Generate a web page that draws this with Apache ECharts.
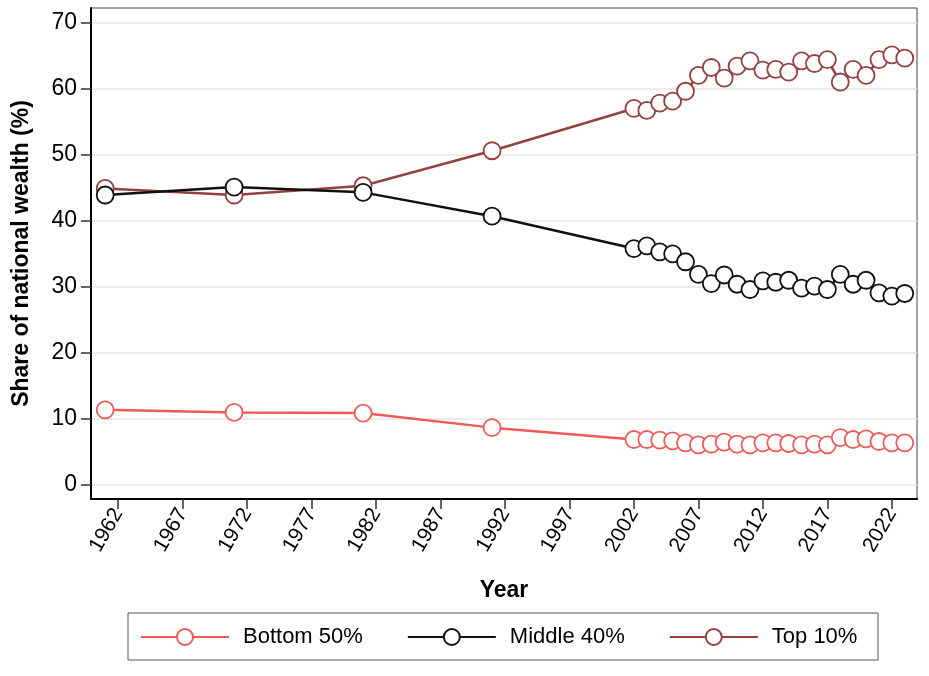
<!DOCTYPE html>
<html>
<head>
<meta charset="utf-8">
<script src="https://cdn.jsdelivr.net/npm/echarts@6/dist/echarts.min.js"></script>
<style>
  html, body { margin: 0; padding: 0; background: #fff; }
  #chart { width: 929px; height: 676px; }
</style>
</head>
<body>
<div id="chart"></div>
<script>
// ---- data ----
const years = [1961, 1971, 1981, 1991,
  2002, 2003, 2004, 2005, 2006, 2007, 2008, 2009, 2010, 2011, 2012,
  2013, 2014, 2015, 2016, 2017, 2018, 2019, 2020, 2021, 2022, 2023];
const bottom50 = [11.4, 11.0, 10.9, 8.7,
  6.9, 6.9, 6.8, 6.7, 6.4, 6.1, 6.2, 6.5, 6.2, 6.1, 6.4,
  6.4, 6.3, 6.1, 6.2, 6.1, 7.2, 6.9, 7.0, 6.6, 6.4, 6.4];
const middle40 = [43.9, 45.1, 44.3, 40.7,
  35.8, 36.2, 35.3, 35.0, 33.8, 31.9, 30.5, 31.8, 30.4, 29.6, 30.9,
  30.7, 31.0, 29.8, 30.1, 29.6, 31.9, 30.4, 31.0, 29.1, 28.6, 29.0];
const top10 = [44.9, 43.9, 45.3, 50.6,
  57.0, 56.7, 57.8, 58.1, 59.6, 62.0, 63.2, 61.6, 63.4, 64.2, 62.8,
  62.9, 62.5, 64.2, 63.8, 64.4, 61.0, 62.9, 62.0, 64.4, 65.1, 64.6];
const xTicks = [1962, 1967, 1972, 1977, 1982, 1987, 1992, 1997, 2002, 2007, 2012, 2017, 2022];
const yTicks = [0, 10, 20, 30, 40, 50, 60, 70];
const seriesNames = ['Bottom 50%', 'Middle 40%', 'Top 10%'];

const FONT = 'Liberation Sans, Arial, Helvetica, sans-serif';
const pairs = arr => years.map((y, i) => [y, arr[i]]);

function lineSeries(name, data, color, z) {
  return {
    name: name,
    type: 'line',
    data: pairs(data),
    symbol: 'circle',
    symbolSize: 17,
    showAllSymbol: true,
    z: z,
    lineStyle: { color: color, width: 2.5 },
    itemStyle: { color: '#ffffff', borderColor: color, borderWidth: 1.8 },
    emphasis: { disabled: true },
    animation: false
  };
}

const chart = echarts.init(document.getElementById('chart'), null, { renderer: 'canvas' });
chart.setOption({
  backgroundColor: '#ffffff',
  animation: false,
  textStyle: { fontFamily: FONT },
  grid: {
    left: 91, right: 12, top: 8, bottom: 177,
    outerBoundsMode: 'none',
    containLabel: false,
    show: true, borderColor: '#444', borderWidth: 1, backgroundColor: 'transparent'
  },
  xAxis: {
    type: 'value',
    min: 1959.9,
    max: 2023.95,
    name: 'Year',
    nameLocation: 'middle',
    nameGap: 80,
    nameTextStyle: { fontFamily: FONT, fontSize: 23, fontWeight: 'bold', color: '#000' },
    axisLine: { show: true, onZero: false, lineStyle: { color: '#000', width: 2 } },
    axisTick: { show: true, length: 10, customValues: xTicks, lineStyle: { color: '#333', width: 1.5 } },
    axisLabel: {
      customValues: xTicks,
      rotate: 60,
      margin: 11,
      fontFamily: FONT,
      fontSize: 21,
      color: '#000',
      formatter: v => String(v)
    },
    splitLine: { show: false }
  },
  yAxis: {
    type: 'value',
    min: -2.1,
    max: 72.2,
    name: 'Share of national wealth (%)',
    nameLocation: 'middle',
    nameGap: 58,
    nameTextStyle: { fontFamily: FONT, fontSize: 23, fontWeight: 'bold', color: '#000' },
    axisLine: { show: true, onZero: false, lineStyle: { color: '#000', width: 2 } },
    axisTick: { show: true, length: 10, customValues: yTicks, lineStyle: { color: '#333', width: 1.5 } },
    axisLabel: {
      customValues: yTicks,
      margin: 14,
      fontFamily: FONT,
      fontSize: 23,
      color: '#000'
    },
    splitLine: { show: true, lineStyle: { color: '#e6e6e6', width: 1.5 } }
  },
  legend: {
    data: seriesNames,
    left: 140,
    top: 626,
    padding: 0,
    itemGap: 44,
    itemWidth: 88,
    itemHeight: 20,
    selectedMode: false,
    textStyle: { fontFamily: FONT, fontSize: 22, color: '#000', padding: [0, 0, 0, 9] }
  },
  graphic: [{
    type: 'rect',
    shape: { x: 128, y: 613, width: 750, height: 47 },
    style: { fill: 'none', stroke: '#555', lineWidth: 1 },
    silent: true
  }],
  series: [
    lineSeries(seriesNames[0], bottom50, '#ef5b57', 3),
    lineSeries(seriesNames[2], top10, '#93423f', 4),
    lineSeries(seriesNames[1], middle40, '#111111', 5)
  ]
});
</script>
</body>
</html>
